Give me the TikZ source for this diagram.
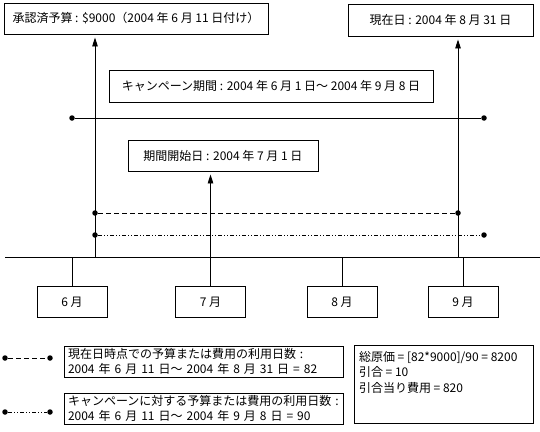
\documentclass[tikz,border=0pt]{standalone}
\usepackage{fontspec}
\setmainfont{Noto Sans CJK JP}
\usetikzlibrary{arrows.meta}
\begin{document}
\begin{tikzpicture}[x=1pt,y=-1pt,line width=0.9pt,font=\fontsize{12}{15.5}\selectfont,
  box/.style={draw, inner sep=0pt},
  bullet/.style={circle, fill, inner sep=0pt, minimum size=5.5pt},
  arr/.style={-{Triangle[length=9pt,width=5.5pt]}, shorten >=3pt},
  dashline/.style={dash pattern=on 5pt off 3pt},
  dotline/.style={dash pattern=on 4pt off 2pt on 1pt off 2pt on 1pt off 2pt}]
\useasboundingbox (0,0) rectangle (540,431);
\node[box, minimum width=264pt, minimum height=31pt] (budget) at (136,18.5) {承認済予算 : \$9000（2004 年 6 月 11 日付け）};
\node[box, minimum width=185pt, minimum height=32pt] (today) at (440.5,20) {現在日 : 2004 年 8 月 31 日};
\node[box, minimum width=324pt, minimum height=32pt] (campaign) at (271,86) {キャンペーン期間 : 2004 年 6 月 1 日～ 2004 年 9 月 8 日};
\node[box, minimum width=190pt, minimum height=31pt] (start) at (223,155.5) {期間開始日 : 2004 年 7 月 1 日};
\foreach \m/\x in {6/72,7/210.5,8/342,9/463}
  \node[box, minimum width=70pt, minimum height=31pt] (m\m) at (\x,302) {\m{} 月};
\coordinate (basew) at (5,257);
\coordinate (basee) at (540,257);
\coordinate (v6) at (95,257);
\coordinate (v9) at (458,257);
\draw (basew) -- (basee);
\draw[arr] (v6) -- (v6 |- budget.south);
\draw[arr] (v9) -- (v9 |- today.south);
\draw[arr] (m7) -- (m7 |- start.south);
\foreach \m in {6,8,9}
  \draw (m\m) -- (m\m |- basew);
\node[bullet] (p1) at (72,118) {};
\node[bullet] (p2) at (484,118) {};
\draw (p1) -- (p2);
\node[bullet] (q1) at (95,213) {};
\node[bullet] (q2) at (458,213) {};
\draw[dashline] (q1) -- (q2);
\node[bullet] (r1) at (95,235) {};
\node[bullet] (r2) at (484,235) {};
\draw[dotline] (r1) -- (r2);
\node[bullet] (k1) at (5,358) {};
\node[bullet] (k2) at (50,358) {};
\draw[dashline] (k1) -- (k2);
\node[bullet] (l1) at (5,412) {};
\node[bullet] (l2) at (50,412) {};
\draw[dotline] (l1) -- (l2);
\node[box, text width=271pt, inner xsep=4pt, minimum height=31pt, align=left] (used) at (203.5,361.5) {現在日時点での予算または費用の利用日数 :\\2004 年 6 月 11 日～ 2004 年 8 月 31 日 = 82};
\node[box, text width=271pt, inner xsep=4pt, minimum height=31pt, align=left] (total) at (203.5,408.5) {キャンペーンに対する予算または費用の利用日数 :\\2004 年 6 月 11 日～ 2004 年 9 月 8 日 = 90};
\node[box, minimum width=179pt, minimum height=78pt] (cost) at (443.5,384) {};
\node[anchor=north west, align=left, inner sep=0pt] (costtext) at ([xshift=5pt,yshift=-6pt]cost.north west) {総原価 = [82*9000]/90 = 8200\\引合 = 10\\引合当り費用 = 820};
\end{tikzpicture}
\end{document}
